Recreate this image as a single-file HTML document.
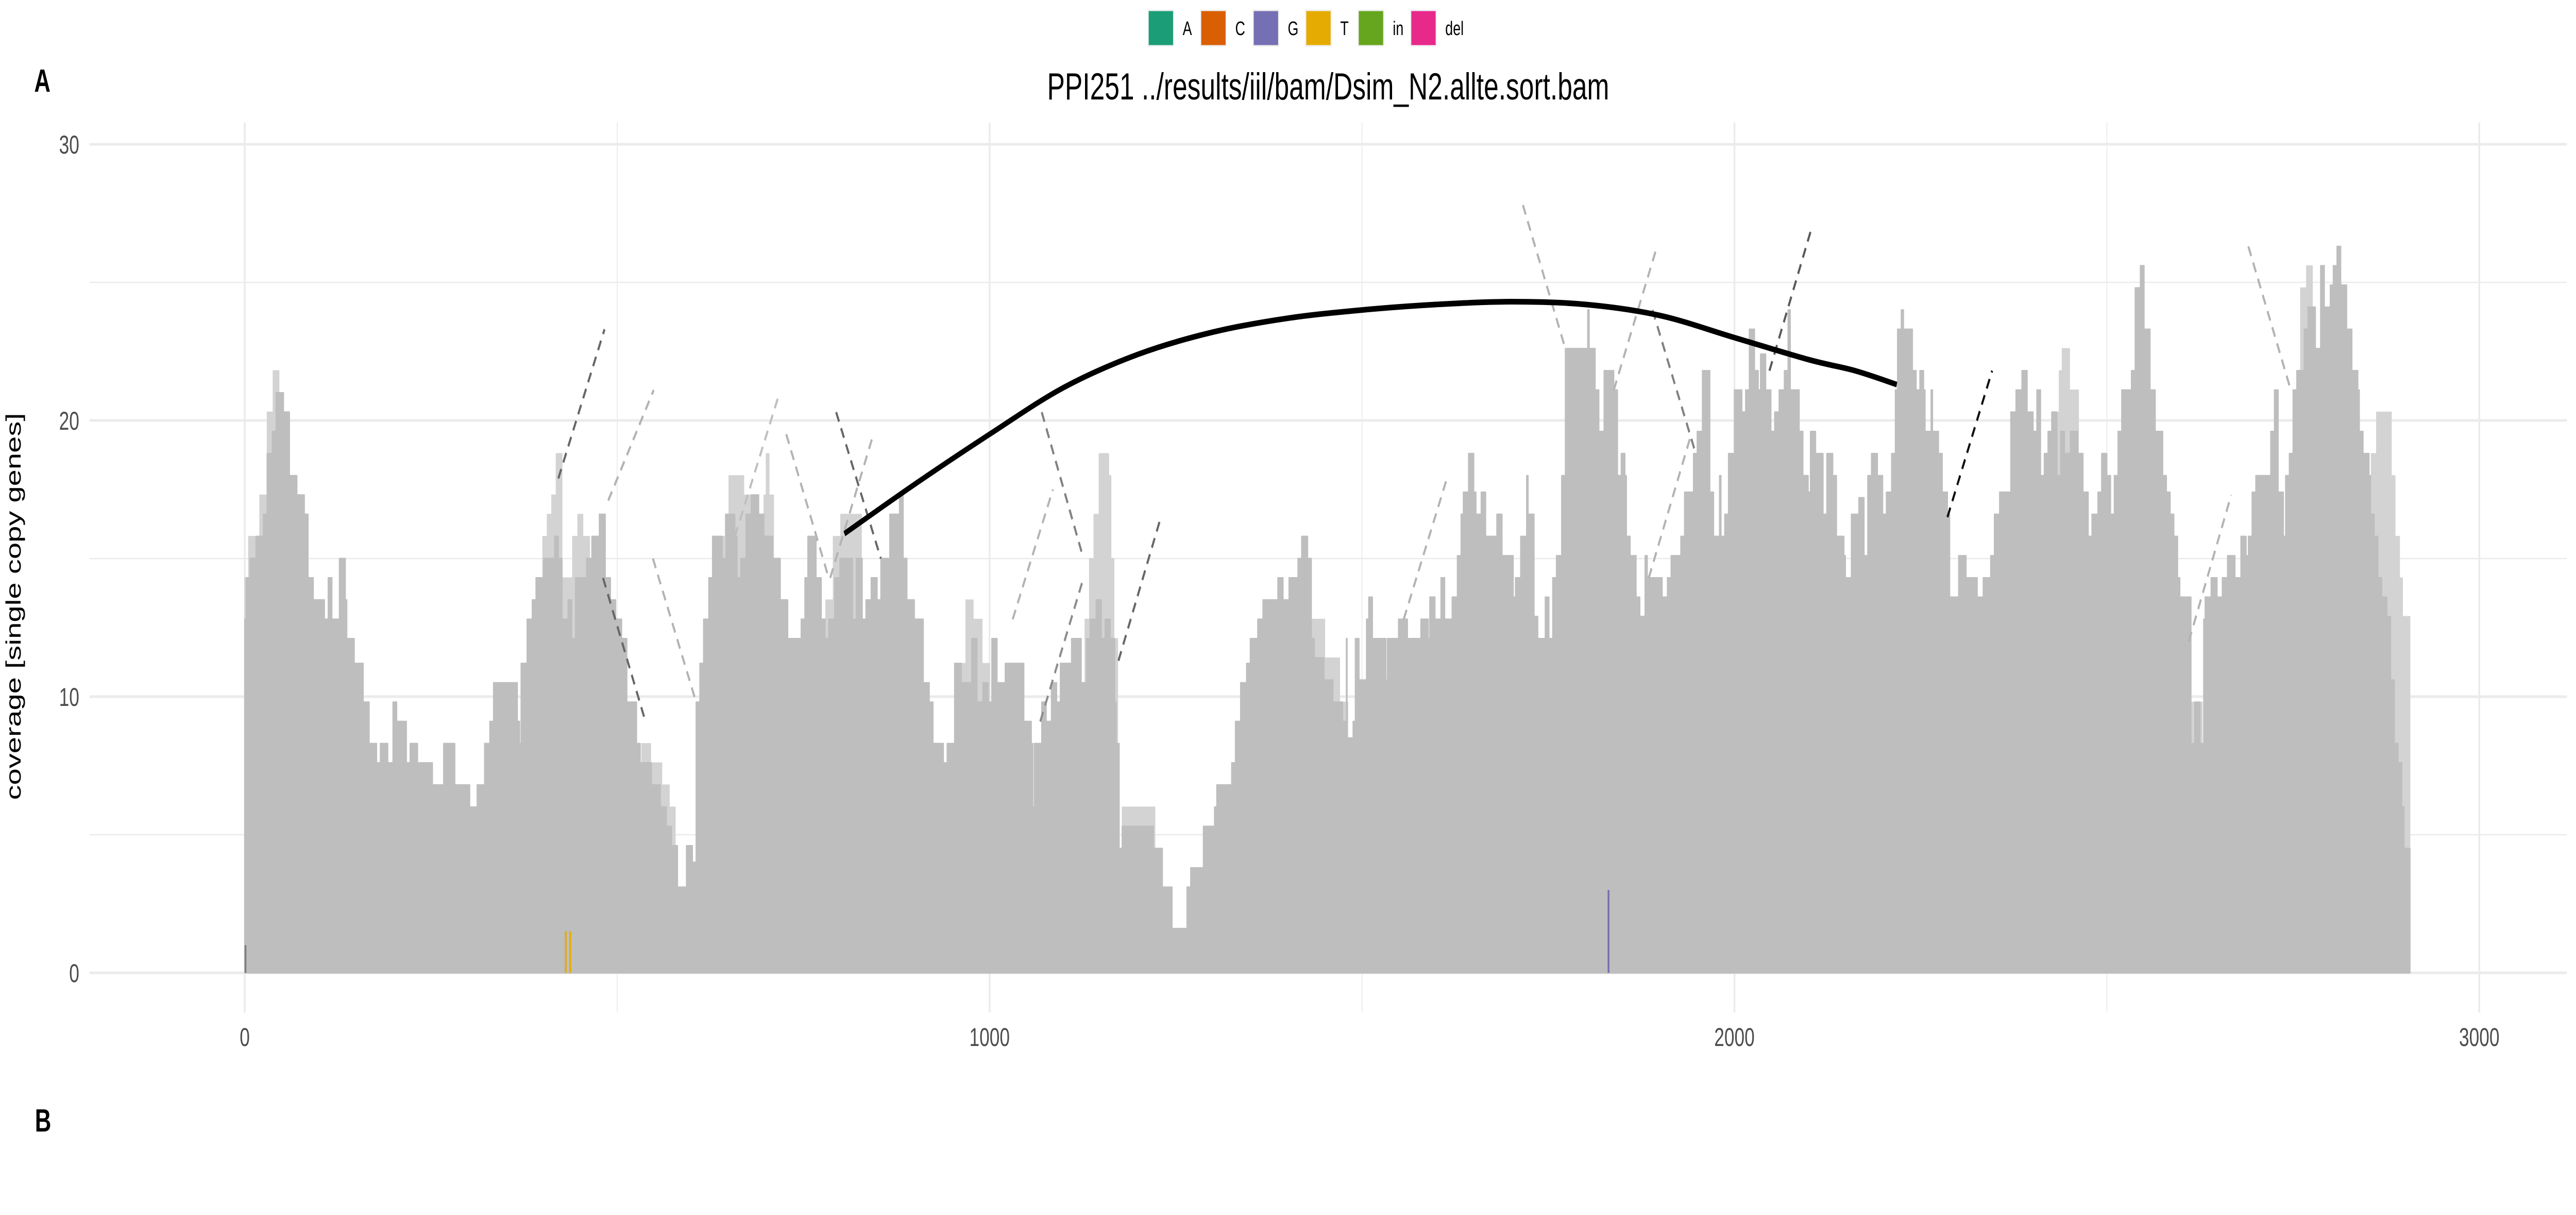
<!DOCTYPE html>
<html><head><meta charset="utf-8"><title>PPI251 coverage</title>
<style>html,body{margin:0;padding:0;background:#fff;overflow:hidden;width:100vw;height:100vh;}svg{display:block;width:100vw;height:100vh;font-family:"Liberation Sans",Arial,sans-serif;}</style>
</head><body>
<svg id="chart" viewBox="0 0 7083 2358" preserveAspectRatio="none" xmlns="http://www.w3.org/2000/svg">
<rect x="0" y="0" width="7083" height="2358" fill="#fff"/>
<g id="grid"></g>
<g id="lightArea"></g>
<g id="darkArea"></g>
<g id="snps"></g>
<g id="splits"></g>
<g id="arcs"></g>
<g id="axes"></g>
<text x="94" y="178" font-size="62" font-weight="bold" fill="#000">A</text>
<text x="96" y="2196" font-size="62" font-weight="bold" fill="#000">B</text>
<text x="3652" y="193" font-size="73" text-anchor="middle" fill="#000">PPI251 ../results/iil/bam/Dsim_N2.allte.sort.bam</text>
<text transform="translate(57,1177) rotate(-90)" font-size="58" text-anchor="middle" fill="#000">coverage [single copy genes]</text>
<g id="legend"></g>
</svg>
<script>
// ---- data ----
const darkPos = [0,2,7,15,25,30,37,42,52,60,70,80,85,92,107,112,117,127,135,137,147,159,167,177,182,192,199,204,214,217,222,232,252,267,282,302,312,322,329,334,366,369,371,379,386,391,401,416,421,426,434,439,444,459,466,476,484,491,498,506,513,526,531,546,558,566,573,581,593,601,606,611,616,623,628,641,646,658,661,666,673,680,690,697,
709,719,729,747,752,756,767,774,779,784,792,799,809,816,821,829,834,841,849,854,866,879,884,889,899,911,919,924,938,943,953,962,976,983,991,998,1003,1010,1021,1046,1056,1058,1060,1070,1076,1083,1090,1095,1110,1123,1130,1135,1143,1150,1155,1162,1168,1170,1174,1178,1220,1232,1245,1265,1270,1287,1302,1305,1325,1330,1337,1345,1350,1360,1367,1387,1394,1402,1414,1419,1427,
1432,1436,1449,1461,1474,1479,1480,1488,1491,1496,1506,1509,1514,1532,1534,1549,1561,1562,1579,1589,1591,1598,1606,1611,1621,1628,1633,1636,1643,1650,1653,1660,1666,1681,1688,1703,1706,1713,1721,1723,1731,1736,1746,1751,1756,1761,1768,1773,1803,1805,1813,1818,1825,1838,1843,1848,1853,1855,1860,1868,1873,1880,1883,1903,1910,1915,1928,1933,1945,1950,1957,1967,1972,1980,1982,1987,1992,2000,2010,2015,2020,2027,2032,2035,2042,2049,2054,2060,2067,2072,2075,2087,2092,2099,2102,2109,2119,2124,2132,2137,2147,2149,2157,2167,2174,2179,2184,2192,2199,2204,2211,2216,2219,2224,2227,2239,2244,2249,2254,2256,2264,2266,2274,2279,2286,2289,2301,2311,2326,2334,2344,2349,2356,2371,2378,2386,2393,2401,2406,2411,2416,2421,2426,2433,2438,2443,2451,2461,2468,2475,2480,2488,2493,2500,2505,2510,2515,2520,2533,2538,2545,2550,2558,2565,2575,2580,2585,2590,2595,2598,2610,2613,2618,2625,2630,2632,2640,2648,2655,2662,2672,2680,2687,2690,2695,2700,2720,2725,2730,2737,2740,2745,2750,2755,2765,2770,2780,2787,2792,2800,2804,2809,2814,2822,2829,2837,2839,2844,2852,2854,2859,2864,2869,2876,2881,2886,2891,2896,2899,2907];
const darkCov = [12.8,14.3,15,15.8,16.6,18.8,19.6,21,20.3,18,17.3,16.6,14.3,13.5,12.8,14.3,12.8,15,13.5,12.1,11.2,9.8,8.3,7.6,8.3,7.6,9.8,9.1,9.1,7.6,8.3,7.6,6.8,8.3,6.8,6,6.8,8.3,9.1,10.5,9.1,8.3,11.2,12.8,13.5,14.3,15,15.8,15,12.8,13.5,12.1,14.3,15,15.8,16.6,14.3,13.5,12.8,12.1,9.8,8.3,7.6,6.8,6,5.3,4.6,3.1,4.6,4,9.8,11.2,12.8,14.3,15.8,15,16.6,15.8,14.3,15,16.6,17.3,16.6,15.8,
15,13.5,12.1,12.8,14.3,15.8,14.3,12.8,12.1,12.8,14.3,15,15,12.8,15,12.8,13.5,14.3,13.5,15,16.6,17.3,15,13.5,12.8,10.5,9.8,8.3,7.6,8.3,11.2,10.5,12.1,9.8,10.5,9.8,12.1,10.5,11.2,9.1,8.3,6,8.3,9.8,9.1,10.5,9.8,11.2,12.1,10.5,12.1,12.8,13.5,12.1,12.8,12.1,9.8,8.3,4.5,5.3,4.5,3.1,1.6,3.1,3.8,5.3,6,6.8,7.6,9.1,10.5,11.2,12.1,12.8,13.5,14.3,13.5,14.3,15,15.8,15,
12.1,11.4,10.6,9.8,9.1,12.1,8.5,9.1,12.1,10.6,12.8,13.6,12.1,10.6,12.1,12.8,9.8,12.1,12.8,12.1,13.6,12.8,14.3,12.8,13.6,15.1,16.6,17.4,18.8,17.4,16.6,17.4,15.8,16.6,15.1,13.6,14.3,15.8,18,16.6,12.9,12.1,13.6,12.1,14.3,15.1,18,22.6,24,22.6,21.1,19.6,21.8,21.1,18,18.8,18,15.8,15.1,13.6,12.9,15.1,14.3,13.6,14.3,15.1,15.8,17.4,18.8,19.6,21.8,17.4,15.8,18,15.8,16.6,18.8,21.1,20.3,21.1,23.3,21.8,21.1,22.4,21.1,19.6,20.3,21.1,21.8,24,21.1,19.6,18,17.4,19.6,18.8,16.6,18.8,18,15.8,15.1,14.3,16.6,17.2,15.1,18,18.8,18,16.6,17.4,18.8,21.1,23.3,24,23.3,21.8,21.1,21.8,21.1,19.6,21.1,19.6,18.8,17.4,16.6,13.6,15.1,14.3,13.6,14.3,15.1,16.6,17.4,20.3,21.1,21.8,20.3,19.6,21.1,18,18.8,19.6,20.3,18,19.6,18.8,19.6,18.8,17.4,15.8,16.6,17.4,18.8,18,16.6,18,19.6,21.1,21.8,24.8,25.6,23.3,21.1,19.6,18,17.4,16.6,15.8,14.3,13.6,13.6,8.3,9.8,8.3,12.8,13.6,14.3,13.6,14.3,15.1,14.3,15.8,15.1,15.8,17.4,18,19.6,21.1,17.4,15.8,18,18.8,21.1,21.8,23.3,24.1,22.6,25.6,24.1,24.9,25.6,26.3,24.9,23.3,21.8,21.1,19.6,18.8,18,16.6,15.8,14.3,13.6,12.9,10.6,8.3,7.6,6,4.5,0];
const lightPos = [0,5,20,30,38,46,395,400,406,412,418,426,440,447,454,463,468,533,545,560,570,578,638,645,650,670,686,690,697,700,704,710,780,790,800,815,822,828,960,968,978,990,1000,1128,1134,1140,1147,1160,1163,1167,1172,1178,1222,1430,1450,1470,1481,2430,2436,2440,2450,2462,2612,2628,2760,2768,2776,2855,2862,2882,2887,2893,2897,2907];
const lightCov = [14.3,15.8,17.3,20.3,21.8,0,12.8,15.8,16.6,17.3,18.8,14.3,15.8,16.6,15.8,15,0,8.3,7.6,6.8,6,0,15.8,16.6,18,17.3,17.3,0,17.3,18.8,17.3,0,13.5,15.8,16.6,16.6,16.6,0,11.2,13.5,12.8,11.2,0,12.8,15,16.6,18.8,18,15,12.1,0,6,0,12.8,11.4,9.8,0,20.3,21.8,22.6,21.1,0,9.8,0,24.8,25.6,0,18.8,20.3,18,15.8,14.3,12.9,0];
// split-read dashed segments: start bp, start cov, end bp, end cov, shade
const splitX1 = [421,488,481,548,658,727,794,786,1070,1031,1068,1173,1556,1716,1838,1890,1885,2047,2286,2610,2690];
const splitY1 = [17.9,17.1,14.3,15,15.8,19.5,20.3,14.3,20.3,12.8,9.1,11.3,12.8,27.8,21.1,24,14.3,21.8,16.5,12,26.3];
const splitX2 = [483,549,538,606,718,784,854,844,1125,1085,1125,1230,1614,1773,1895,1947,1942,2104,2346,2667,2747];
const splitY2 = [23.3,21.1,9.1,9.8,21,14.3,15,19.5,15.1,17.5,14.2,16.5,17.9,22.6,26.2,18.9,19.5,27,21.8,17.3,21.1];
const splitShade = [0.6,0.3,0.6,0.3,0.25,0.3,0.6,0.3,0.5,0.3,0.45,0.6,0.3,0.3,0.3,0.5,0.3,0.65,0.95,0.3,0.3];
// main arc trace
const arcBp = [805,900,1000,1100,1200,1300,1400,1500,1600,1700,1800,1900,2000,2100,2162,2218];
const arcCov = [15.9,17.7,19.5,21.2,22.4,23.2,23.7,24.0,24.2,24.3,24.2,23.8,23.0,22.2,21.8,21.3];
// allele counts
const snpBp = [0,430,436,1830];
const snpCov = [1,1.5,1.5,3];
const snpBase = ["other","T","T","G"];
const xTicks = [0,1000,2000,3000];
const yTicks = [0,10,20,30];
const legendLabels = ["A","C","G","T","in","del"];
const legendColors = ["#1B9E77","#D95F02","#7570B3","#E6AB02","#66A61E","#E7298A"];

// ---- scales ----
const NS="http://www.w3.org/2000/svg";
const X0=673, XK=2.048, Y0=1888, YK=53.6;
const PL=246, PR=7058, PT=238, PB=1965;
function sx(b){return X0+b*XK;}
function sy(c){return Y0-c*YK;}
function mk(tag,attrs,parent){const e=document.createElementNS(NS,tag);for(const k in attrs)e.setAttribute(k,attrs[k]);parent.appendChild(e);return e;}

const grid=document.getElementById('grid');
[5,15,25].forEach(v=>{const l=mk('line',{x1:PL,x2:PR,y1:sy(v),y2:sy(v),stroke:'#ebebeb','stroke-width':2.5},grid);

});
[500,1500,2500].forEach(v=>{const l=mk('line',{x1:sx(v),x2:sx(v),y1:PT,y2:PB,stroke:'#ebebeb','stroke-width':2.5},grid);

});
yTicks.forEach(v=>{const l=mk('line',{x1:PL,x2:PR,y1:sy(v),y2:sy(v),stroke:'#ebebeb','stroke-width':5},grid);

});
xTicks.forEach(v=>{const l=mk('line',{x1:sx(v),x2:sx(v),y1:PT,y2:PB,stroke:'#ebebeb','stroke-width':5},grid);

});

function stepPath(pos,cov){
  let d='';
  for(let i=0;i<pos.length-1;i++){
    const x1=sx(pos[i]),x2=sx(pos[i+1]);
    if(cov[i]>0){d+=`M${x1},${Y0}V${sy(cov[i])}H${x2}V${Y0}Z`;}
  }
  return d;
}
const lp=mk('path',{d:stepPath(lightPos,lightCov),fill:'#d3d3d3',stroke:'#d3d3d3','stroke-width':2,'stroke-linejoin':'round'},document.getElementById('lightArea'));


let dd=`M${sx(darkPos[0])},${Y0}`;
for(let i=0;i<darkPos.length-1;i++){dd+=`V${sy(darkCov[i])}H${sx(darkPos[i+1])}`;}
dd+=`V${Y0}Z`;
const dp=mk('path',{d:dd,fill:'#bebebe',stroke:'#bebebe','stroke-width':3,'stroke-linejoin':'round'},document.getElementById('darkArea'));



const baseColor={A:'#1B9E77',C:'#D95F02',G:'#7570B3',T:'#E6AB02',other:'#808080'};
const snps=document.getElementById('snps');
for(let i=0;i<snpBp.length;i++){
  const l=mk('line',{x1:sx(snpBp[i])+2,x2:sx(snpBp[i])+2,y1:Y0,y2:sy(snpCov[i]),stroke:baseColor[snpBase[i]],'stroke-width':5},snps);
  
  
}
const splits=document.getElementById('splits');
for(let i=0;i<splitX1.length;i++){
  const g=Math.round(255*(1-splitShade[i]));
  const l=mk('line',{x1:sx(splitX1[i]),y1:sy(splitY1[i]),x2:sx(splitX2[i]),y2:sy(splitY2[i]),stroke:`rgb(${g},${g},${g})`,'stroke-width':5.5,'stroke-dasharray':'20 14'},splits);
  
  
}
const pts=arcBp.map((b,i)=>[sx(b),sy(arcCov[i])]);
let ad=`M${pts[0][0]},${pts[0][1]}`;
for(let i=0;i<pts.length-1;i++){
  const p0=pts[Math.max(0,i-1)],p1=pts[i],p2=pts[i+1],p3=pts[Math.min(pts.length-1,i+2)];
  const c1=[p1[0]+(p2[0]-p0[0])/6,p1[1]+(p2[1]-p0[1])/6];
  const c2=[p2[0]-(p3[0]-p1[0])/6,p2[1]-(p3[1]-p1[1])/6];
  ad+=`C${c1[0]},${c1[1]} ${c2[0]},${c2[1]} ${p2[0]},${p2[1]}`;
}
const arc=mk('path',{d:ad,fill:'none',stroke:'#000','stroke-width':11},document.getElementById('arcs'));



const axes=document.getElementById('axes');
yTicks.forEach(v=>{const t=mk('text',{x:218,y:sy(v)+18,'font-size':50,'text-anchor':'end',fill:'#4d4d4d'},axes);t.textContent=v;

});
xTicks.forEach(v=>{const t=mk('text',{x:sx(v),y:2030,'font-size':50,'text-anchor':'middle',fill:'#4d4d4d'},axes);t.textContent=v;

});

const legend=document.getElementById('legend');
for(let i=0;i<legendLabels.length;i++){
  const bx=3157+i*144.4;
  const r=mk('rect',{x:bx,y:20,width:70,height:69,fill:legendColors[i],stroke:'#f0f0f0','stroke-width':3},legend);
  
  
  const t=mk('text',{x:bx+95,y:68,'font-size':38,fill:'#000'},legend);
  t.textContent=legendLabels[i];
  
  
}
</script>
</body></html>
